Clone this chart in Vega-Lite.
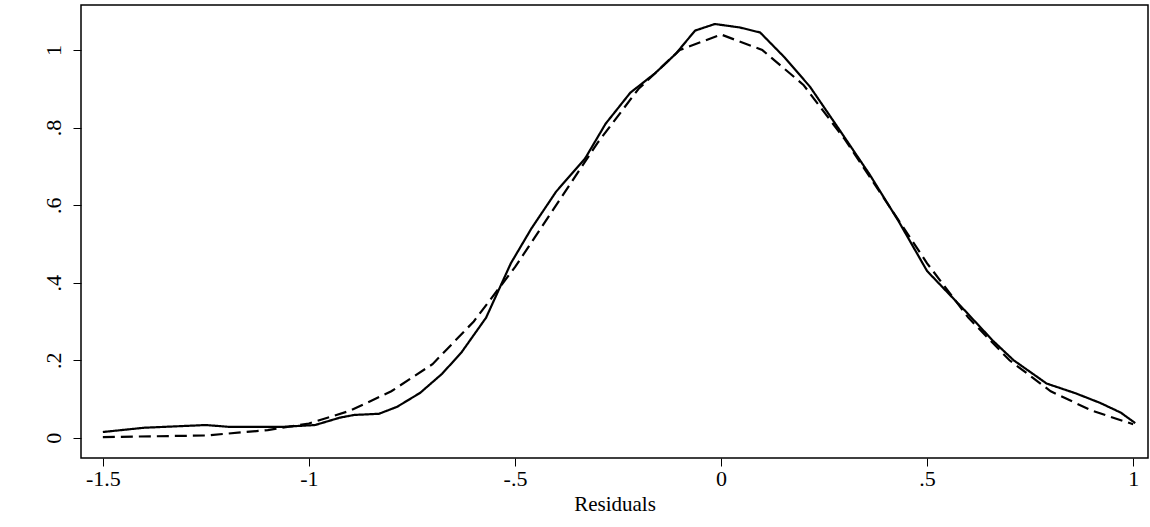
{
  "$schema": "https://vega.github.io/schema/vega-lite/v6.json",
  "width": 1067,
  "height": 453,
  "autosize": "none",
  "padding": {"left": 81, "top": 5, "right": 2, "bottom": 69},
  "background": "white",
  "config": {
    "font": "Liberation Serif",
    "view": {"stroke": "black", "strokeWidth": 1.5},
    "axis": {"grid": false, "domain": false, "tickColor": "black", "tickSize": 8, "labelColor": "black", "labelFont": "Liberation Serif", "labelFontSize": 22, "titleFont": "Liberation Serif", "titleFontSize": 21, "titleFontWeight": "normal", "titleColor": "black"}
  },
  "data": {"values": [
    {"x": -1.5, "y": 0.015, "s": "kernel"}, {"x": -1.4, "y": 0.026, "s": "kernel"}, {"x": -1.25, "y": 0.033, "s": "kernel"},
    {"x": -1.19, "y": 0.028, "s": "kernel"}, {"x": -1.07, "y": 0.028, "s": "kernel"}, {"x": -0.985, "y": 0.033, "s": "kernel"},
    {"x": -0.925, "y": 0.052, "s": "kernel"}, {"x": -0.89, "y": 0.059, "s": "kernel"}, {"x": -0.83, "y": 0.062, "s": "kernel"},
    {"x": -0.786, "y": 0.08, "s": "kernel"}, {"x": -0.73, "y": 0.116, "s": "kernel"}, {"x": -0.677, "y": 0.165, "s": "kernel"},
    {"x": -0.63, "y": 0.22, "s": "kernel"}, {"x": -0.57, "y": 0.31, "s": "kernel"}, {"x": -0.51, "y": 0.45, "s": "kernel"},
    {"x": -0.46, "y": 0.54, "s": "kernel"}, {"x": -0.4, "y": 0.635, "s": "kernel"}, {"x": -0.33, "y": 0.72, "s": "kernel"},
    {"x": -0.28, "y": 0.81, "s": "kernel"}, {"x": -0.22, "y": 0.89, "s": "kernel"}, {"x": -0.16, "y": 0.94, "s": "kernel"},
    {"x": -0.11, "y": 0.99, "s": "kernel"}, {"x": -0.063, "y": 1.05, "s": "kernel"}, {"x": -0.015, "y": 1.067, "s": "kernel"},
    {"x": 0.046, "y": 1.058, "s": "kernel"}, {"x": 0.095, "y": 1.045, "s": "kernel"}, {"x": 0.155, "y": 0.98, "s": "kernel"},
    {"x": 0.216, "y": 0.905, "s": "kernel"}, {"x": 0.29, "y": 0.79, "s": "kernel"}, {"x": 0.36, "y": 0.68, "s": "kernel"},
    {"x": 0.43, "y": 0.56, "s": "kernel"}, {"x": 0.5, "y": 0.43, "s": "kernel"}, {"x": 0.59, "y": 0.33, "s": "kernel"},
    {"x": 0.66, "y": 0.25, "s": "kernel"}, {"x": 0.71, "y": 0.2, "s": "kernel"}, {"x": 0.79, "y": 0.14, "s": "kernel"},
    {"x": 0.86, "y": 0.115, "s": "kernel"}, {"x": 0.92, "y": 0.09, "s": "kernel"}, {"x": 0.97, "y": 0.065, "s": "kernel"},
    {"x": 1.005, "y": 0.038, "s": "kernel"},
    {"x": -1.5, "y": 0.002, "s": "normal"}, {"x": -1.25, "y": 0.006, "s": "normal"}, {"x": -1.1, "y": 0.02, "s": "normal"},
    {"x": -1.0, "y": 0.037, "s": "normal"}, {"x": -0.9, "y": 0.07, "s": "normal"}, {"x": -0.8, "y": 0.12, "s": "normal"},
    {"x": -0.7, "y": 0.19, "s": "normal"}, {"x": -0.6, "y": 0.3, "s": "normal"}, {"x": -0.5, "y": 0.44, "s": "normal"},
    {"x": -0.4, "y": 0.6, "s": "normal"}, {"x": -0.3, "y": 0.76, "s": "normal"}, {"x": -0.2, "y": 0.9, "s": "normal"},
    {"x": -0.1, "y": 1.0, "s": "normal"}, {"x": 0.0, "y": 1.04, "s": "normal"}, {"x": 0.1, "y": 1.0, "s": "normal"},
    {"x": 0.2, "y": 0.91, "s": "normal"}, {"x": 0.3, "y": 0.77, "s": "normal"}, {"x": 0.4, "y": 0.61, "s": "normal"},
    {"x": 0.5, "y": 0.45, "s": "normal"}, {"x": 0.6, "y": 0.31, "s": "normal"}, {"x": 0.7, "y": 0.2, "s": "normal"},
    {"x": 0.8, "y": 0.12, "s": "normal"}, {"x": 0.9, "y": 0.07, "s": "normal"}, {"x": 1.0, "y": 0.035, "s": "normal"}
  ]},
  "mark": {"type": "line", "color": "black", "strokeWidth": 2.2, "interpolate": "linear"},
  "encoding": {
    "x": {"field": "x", "type": "quantitative", "title": "Residuals", "titlePadding": -2,
      "scale": {"domain": [-1.553, 1.036], "nice": false, "zero": false},
      "axis": {"values": [-1.5, -1, -0.5, 0, 0.5, 1], "labelExpr": "replace(toString(datum.value), '0.', '.')", "labelPadding": 2}},
    "y": {"field": "y", "type": "quantitative", "title": null,
      "scale": {"domain": [-0.052, 1.116], "nice": false, "zero": false},
      "axis": {"values": [0, 0.2, 0.4, 0.6, 0.8, 1], "labelExpr": "replace(toString(datum.value), '0.', '.')", "labelAngle": -90, "labelAlign": "center", "labelBaseline": "bottom", "labelPadding": 8}},
    "strokeDash": {"field": "s", "type": "nominal", "legend": null,
      "scale": {"domain": ["kernel", "normal"], "range": [[1, 0], [12, 6]]}},
    "detail": {"field": "s"}
  }
}
